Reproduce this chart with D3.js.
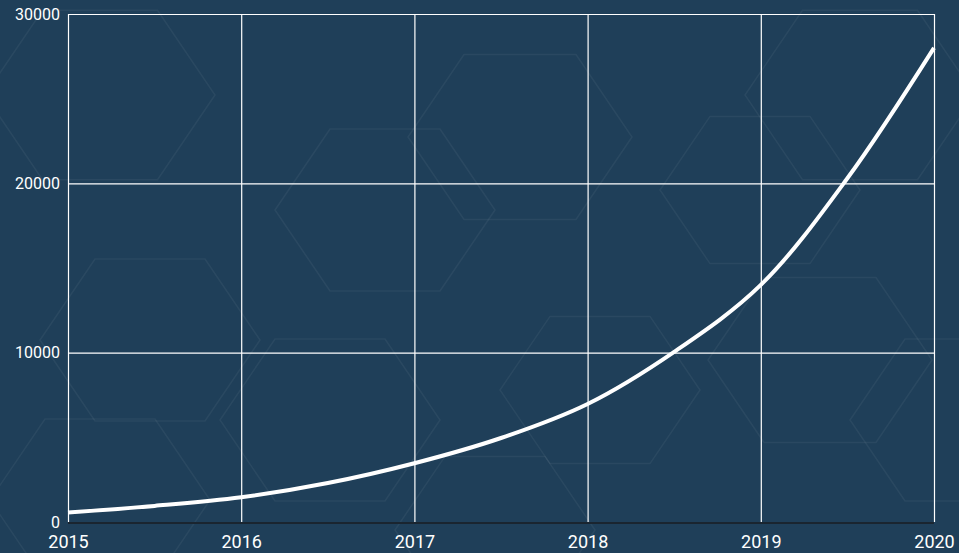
<!DOCTYPE html>
<meta charset="utf-8">
<style>
  body { margin: 0; background-color: #1f3f59; }
  svg { display: block; }
  .hex { fill: none; stroke: #ffffff; stroke-opacity: 0.05; stroke-width: 1.5px; }
  .grid line { stroke: #fff; stroke-width: 1.2px; }
  .grid path { display: none; }
  .tick text { fill: #fff; font-family: Roboto, sans-serif; }
  .baseline { stroke: #1a2530; stroke-width: 2px; }
  .line { fill: none; stroke: #fff; stroke-width: 4px; }
</style>
<svg width="959" height="553"></svg>
<script src="https://d3js.org/d3.v7.min.js"></script>
<script>
  // data (half-year steps)
  var years = [2015, 2015.5, 2016, 2016.5, 2017, 2017.5, 2018, 2018.5, 2019, 2019.5, 2020];
  var values = [560, 950, 1460, 2300, 3470, 4960, 6970, 10050, 14000, 20300, 28000];
  var xTicks = [2015, 2016, 2017, 2018, 2019, 2020];
  var yTicks = [0, 10000, 20000, 30000];

  // faint background hexagons: [cx, cy, r]
  var hexes = [[100, 95, 115], [520, 137, 112], [385, 210, 110], [860, 95, 115],
    [150, 340, 110], [330, 420, 110], [600, 390, 100], [820, 360, 112],
    [100, 500, 110], [495, 530, 100], [760, 190, 100], [960, 420, 110]];

  var svg = d3.select("svg"),
    margin = {top: 14, right: 25, bottom: 31, left: 68},
    width = +svg.attr("width") - margin.left - margin.right,
    height = +svg.attr("height") - margin.top - margin.bottom;

  svg.append("g").selectAll("path")
    .data(hexes)
    .enter().append("path")
    .attr("class", "hex")
    .attr("d", function(h) {
      var pts = d3.range(6).map(function(i) {
        var a = Math.PI / 3 * i;
        return [h[0] + h[2] * Math.cos(a), h[1] + h[2] * 0.85 * Math.sin(a)];
      });
      return "M" + pts.join("L") + "Z";
    });

  var g = svg.append("g").attr("transform", "translate(" + margin.left + "," + margin.top + ")");

  var x = d3.scaleLinear().domain([2015, 2020]).range([0, width]);
  var y = d3.scaleLinear().domain([0, 30000]).range([height, 0]);

  g.append("g")
    .attr("class", "grid")
    .attr("transform", "translate(0," + height + ")")
    .call(d3.axisBottom(x).tickValues(xTicks).tickSize(-height).tickFormat(d3.format("d")))
    .call(function(a) {
      a.selectAll("text").attr("y", 8).attr("dy", "1em").style("font-size", "18px");
    });

  g.append("g")
    .attr("class", "grid")
    .call(d3.axisLeft(y).tickValues(yTicks).tickSize(-width).tickFormat(d3.format("d")))
    .call(function(a) {
      a.selectAll("text").attr("x", -8).style("font-size", "16px");
    });

  g.append("line")
    .attr("class", "baseline")
    .attr("x1", 0).attr("x2", width)
    .attr("y1", height + 1).attr("y2", height + 1);

  var line = d3.line()
    .x(function(d) { return x(d[0]); })
    .y(function(d) { return y(d[1]); })
    .curve(d3.curveCatmullRom);

  g.append("path")
    .datum(d3.zip(years, values))
    .attr("class", "line")
    .attr("d", line);
</script>
